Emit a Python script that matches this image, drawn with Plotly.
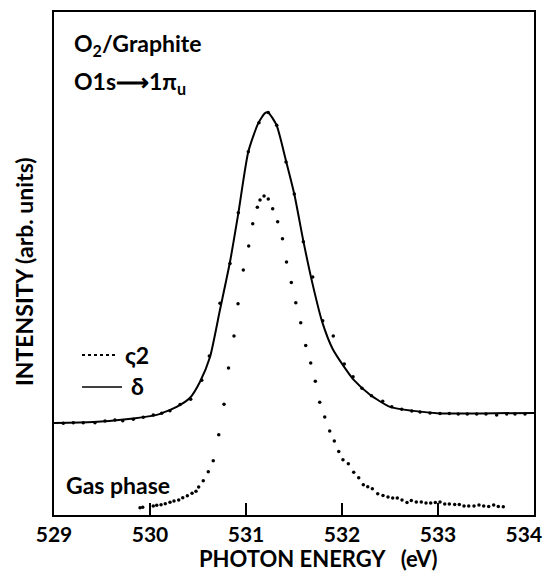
import plotly.graph_objects as go

# Gas phase (dots)
gas_e = [529.896, 529.924, 530.034, 530.070, 530.115, 530.159, 530.208, 530.250, 530.299, 530.341,
         530.389, 530.438, 530.479, 530.507, 530.555, 530.607, 530.659, 530.716, 530.771, 530.818,
         530.875, 530.917, 530.972, 531.028, 531.070, 531.118, 531.146, 531.188, 531.232, 531.278,
         531.330, 531.380, 531.422, 531.472, 531.519, 531.570, 531.622, 531.674, 531.722, 531.768,
         531.820, 531.872, 531.920, 531.966, 532.010, 532.066, 532.122, 532.174, 532.222, 532.268,
         532.316, 532.372, 532.427, 532.479, 532.528, 532.576, 532.625, 532.677, 532.722, 532.774,
         532.826, 532.875, 532.924, 532.972, 533.021, 533.070, 533.118, 533.174, 533.222, 533.271,
         533.320, 533.375, 533.427, 533.476, 533.528, 533.580, 533.628, 533.680]
gas_i = [1.45, 1.53, 1.79, 1.93, 2.05, 2.25, 2.53, 2.78, 2.98, 3.44,
         3.84, 4.31, 4.71, 5.57, 6.82, 8.61, 10.8, 15.96, 22.0, 29.2,
         35.6, 42.0, 48.7, 53.5, 57.9, 61.2, 62.6, 63.4, 62.8, 60.9,
         58.3, 54.9, 50.3, 46.2, 42.2, 38.2, 33.7, 30.2, 26.6, 22.4,
         19.5, 16.7, 14.7, 12.6, 11.0, 10.2, 8.5, 7.4, 6.0, 5.6,
         5.2, 4.2, 3.9, 3.6, 3.4, 3.4, 3.0, 2.5, 2.9, 2.6,
         2.6, 2.4, 2.4, 2.5, 2.6, 2.2, 2.2, 2.1, 2.1, 1.8,
         1.8, 1.8, 2.0, 1.8, 1.7, 2.0, 1.7, 1.65]

# Adsorbed O2/Graphite (measured dots)
ads_e = [529.097, 529.201, 529.305, 529.427, 529.531, 529.635, 529.716, 529.826, 529.930, 530.034,
         530.122, 530.208, 530.313, 530.424, 530.539, 530.618, 530.729, 530.833, 530.920, 531.024,
         531.135, 531.232, 531.320, 531.417, 531.503, 531.597, 531.695, 531.799, 531.909, 532.024,
         532.115, 532.208, 532.307, 532.424, 532.518, 532.622, 532.727, 532.813, 532.917, 533.021,
         533.118, 533.211, 533.305, 533.403, 533.500, 533.611, 533.716, 533.802, 533.906]
ads_i = [18.23, 18.35, 18.35, 18.35, 18.69, 18.89, 18.75, 19.03, 19.42, 19.88,
         20.22, 20.74, 21.97, 23.0, 26.8, 31.6, 42.1, 50.0, 60.1, 72.2,
         78.0, 80.0, 77.5, 70.2, 63.8, 54.3, 47.3, 38.6, 35.6, 30.0,
         27.5, 25.2, 23.7, 22.6, 21.5, 21.0, 20.7, 20.5, 20.3, 20.2,
         20.2, 20.1, 20.1, 20.1, 20.1, 19.9, 20.1, 20.1, 20.1]

# Solid curve through adsorbed data
fit_e = [529.0, 529.409, 529.826, 530.070, 530.278, 530.417, 530.521, 530.625, 530.729,
         530.833, 530.917, 531.024, 531.128, 531.198, 531.232, 531.318, 531.417, 531.503, 531.597,
         531.695, 531.792, 531.903, 532.024, 532.125, 532.292, 532.5, 532.743, 533.021, 533.438, 534.0]
fit_i = [18.3, 18.5, 19.2, 19.9, 21.5, 23.3, 26.5, 31.4, 40.8,
         50.3, 59.6, 72.2, 77.9, 79.9, 80.0, 77.5, 70.4, 63.8, 54.5,
         45.8, 38.5, 33.0, 29.4, 26.8, 23.9, 21.5, 20.7, 20.2, 20.2, 20.3]

tick_vals = [529, 530, 531, 532, 533, 534]
tick_text = ["529", "530", "531", "532", "533", "534"]

FONT = "Lato"

fig = go.Figure()
fig.add_trace(go.Scatter(x=fit_e, y=fit_i, mode="lines",
                         line=dict(color="black", width=2, shape="spline", smoothing=0.6),
                         showlegend=False, hoverinfo="skip"))
fig.add_trace(go.Scatter(x=ads_e, y=ads_i, mode="markers",
                         marker=dict(color="black", size=3.5), showlegend=False))
fig.add_trace(go.Scatter(x=gas_e, y=gas_i, mode="markers",
                         marker=dict(color="black", size=3.5), showlegend=False))

def px(x):
    return (x - 54) / 480.0

def py(y):
    return (515 - y) / 503.0

shapes = [
    dict(type="line", xref="paper", yref="paper", x0=px(82), x1=px(118), y0=py(355), y1=py(355),
         line=dict(color="black", width=2, dash="dot")),
    dict(type="line", xref="paper", yref="paper", x0=px(82), x1=px(122), y0=py(387), y1=py(387),
         line=dict(color="black", width=1.5)),
]

# the right-most tick label is pushed slightly inward so it stays on the page
ticklabels_fmt = []
for i, t in enumerate(tick_text):
    pad = "\u00a0\u00a0\u00a0\u00a0" if i == len(tick_text) - 1 else ""
    ticklabels_fmt.append("<b>" + t + pad + "</b>")

annotations = [
    dict(text="<b>O<sub>2</sub>/Graphite</b>", x=px(72), y=py(44), xref="paper", yref="paper",
         xanchor="left", yanchor="middle", showarrow=False, font=dict(size=23, family=FONT, color="black")),
    dict(text="<b>O1s⟶1π<sub>u</sub></b>", x=px(72), y=py(82), xref="paper", yref="paper",
         xanchor="left", yanchor="middle", showarrow=False, font=dict(size=23, family=FONT, color="black")),
    dict(text="<b>Gas phase</b>", x=px(64), y=py(485), xref="paper", yref="paper",
         xanchor="left", yanchor="middle", showarrow=False, font=dict(size=23, family=FONT, color="black")),
    dict(text="<b>ς2</b>", x=px(123), y=py(355), xref="paper", yref="paper",
         xanchor="left", yanchor="middle", showarrow=False, font=dict(size=23, family=FONT, color="black")),
    dict(text="<b>δ</b>", x=px(129), y=py(386), xref="paper", yref="paper",
         xanchor="left", yanchor="middle", showarrow=False, font=dict(size=23, family=FONT, color="black")),
    dict(text="<b>INTENSITY (arb. units)</b>", x=px(24), y=py(272), xref="paper", yref="paper",
         xanchor="center", yanchor="middle", textangle=-90, showarrow=False,
         font=dict(size=23, family=FONT, color="black")),
    dict(text="<b>PHOTON ENERGY   (eV)</b>", x=px(318), y=py(558), xref="paper", yref="paper",
         xanchor="center", yanchor="middle", showarrow=False,
         font=dict(size=22, family=FONT, color="black")),
]

# Page body has an 8px margin; size the figure so the page is exactly 552x580
fig.update_layout(
    width=536, height=564,
    margin=dict(l=46, r=10, t=4, b=57),
    paper_bgcolor="white", plot_bgcolor="white",
    shapes=shapes, annotations=annotations,
    showlegend=False,
)
fig.update_xaxes(range=[529, 534], tickvals=tick_vals, ticktext=ticklabels_fmt,
                 ticks="inside", ticklen=12, tickwidth=2, tickcolor="black",
                 showline=True, linecolor="black", linewidth=2, mirror=True,
                 showgrid=False, zeroline=False, automargin=False,
                 ticklabeloverflow="allow",
                 tickfont=dict(size=21, family=FONT, color="black"))
fig.update_yaxes(range=[0, 100], showticklabels=False, ticks="",
                 showline=True, linecolor="black", linewidth=2, mirror=True,
                 showgrid=False, zeroline=False, automargin=False)

fig.write_html("out.html")
